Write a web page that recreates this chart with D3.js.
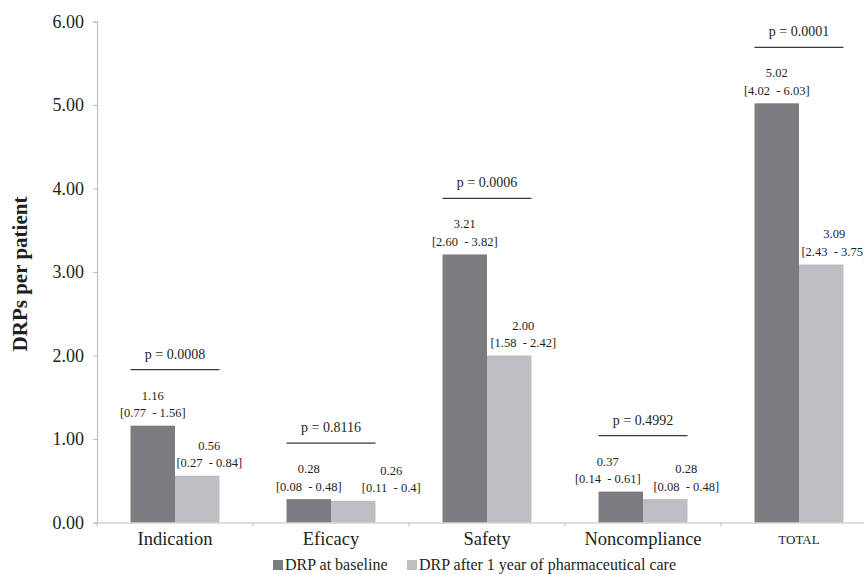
<!DOCTYPE html>
<html>
<head>
<meta charset="utf-8">
<script src="https://cdn.jsdelivr.net/npm/d3@7"></script>
<style>
  html, body { margin: 0; padding: 0; background: #fff; }
  svg text { font-family: "Liberation Serif", "DejaVu Serif", serif !important; }
  .pre { white-space: pre; }
</style>
</head>
<body>
<svg id="chart" width="864" height="574"></svg>
<script>
// Drug-related problems per patient, before and after pharmaceutical care
const categories = ["Indication", "Eficacy", "Safety", "Noncompliance", "TOTAL"];
const seriesNames = ["DRP at baseline", "DRP after 1 year of pharmaceutical care"];
const baseline = [1.16, 0.28, 3.21, 0.37, 5.02];
const baselineCI = ["[0.77  - 1.56]", "[0.08  - 0.48]", "[2.60  - 3.82]", "[0.14  - 0.61]", "[4.02  - 6.03]"];
const afterCare = [0.56, 0.26, 2.00, 0.28, 3.09];
const afterCareCI = ["[0.27  - 0.84]", "[0.11  - 0.4]", "[1.58  - 2.42]", "[0.08  - 0.48]", "[2.43  - 3.75]"];
const pValues = ["p = 0.0008", "p = 0.8116", "p = 0.0006", "p = 0.4992", "p = 0.0001"];
const yTicks = [0, 1, 2, 3, 4, 5, 6];

// label nudges (px) for the hand-placed value labels
const baseNudge = [0, 0, 0, -13, 0];
const afterNudge = [12, 38, 14, 21, 13];

const colors = ["#7b7c80", "#bdbec2"];
const textColor = "#231f20";
const serif = "Liberation Serif";

const svg = d3.select("#chart");

const x = d3.scaleBand().domain(categories).range([97, 877]).padding(0);
const inner = d3.scaleBand().domain([0, 1]).range([0, 89]);
const groupOffset = (x.bandwidth() - 89) / 2;
const y = d3.scaleLinear().domain([0, 6]).range([522.5, 21.5]);

// y axis
const yAxis = svg.append("g")
  .attr("transform", "translate(97,0)")
  .call(d3.axisLeft(y).tickValues(yTicks).tickFormat(d3.format(".2f")).tickSize(4).tickPadding(9))
  .attr("font-family", serif)
  .attr("font-size", 18);
yAxis.select(".domain").attr("stroke", "#bfbfbf").attr("stroke-width", 1.2);
yAxis.selectAll(".tick line").attr("stroke", "#bfbfbf");
yAxis.selectAll(".tick text").attr("fill", textColor);

// bars
const groups = svg.append("g").selectAll("g")
  .data(categories)
  .join("g")
  .attr("transform", d => `translate(${x(d) + groupOffset},0)`);

const seriesData = [baseline, afterCare];
groups.each(function (cat, i) {
  const g = d3.select(this);
  [0, 1].forEach(s => {
    const v = seriesData[s][i];
    g.append("rect")
      .attr("x", inner(s))
      .attr("width", inner.bandwidth())
      .attr("y", y(v))
      .attr("height", y(0) - y(v))
      .attr("fill", colors[s]);
  });
});

// x axis
const xAxis = svg.append("g")
  .attr("transform", `translate(0,${y(0)})`)
  .call(d3.axisBottom(x).tickSize(0).tickPadding(9))
  .attr("font-family", serif)
  .attr("font-size", 18.5);
xAxis.select(".domain").attr("stroke", "#bfbfbf").attr("stroke-width", 1.2);
xAxis.selectAll(".tick text")
  .attr("fill", textColor)
  .attr("font-size", d => d === "TOTAL" ? 13 : 18.5)
  .attr("dy", d => d === "TOTAL" ? "0.95em" : "0.71em");
xAxis.selectAll(".tick line").remove();
// category separators
xAxis.selectAll(".sep")
  .data(categories.map(c => x(c)).concat([x.range()[1]]))
  .join("line")
  .attr("class", "sep")
  .attr("x1", d => d).attr("x2", d => d)
  .attr("y1", 0).attr("y2", 4)
  .attr("stroke", "#bfbfbf");

// value labels
const labels = svg.append("g")
  .attr("fill", textColor)
  .attr("font-family", serif)
  .attr("font-size", 12.5);
categories.forEach((cat, i) => {
  const x0 = x(cat) + groupOffset;
  const specs = [
    { v: baseline[i], ci: baselineCI[i], cx: x0 + inner(0) + inner.bandwidth() / 2 + baseNudge[i] },
    { v: afterCare[i], ci: afterCareCI[i], cx: x0 + inner(1) + inner.bandwidth() / 2 + afterNudge[i] }
  ];
  specs.forEach(sp => {
    const top = y(sp.v);
    labels.append("text")
      .attr("x", sp.cx).attr("y", top - 26)
      .attr("text-anchor", "middle")
      .text(d3.format(".2f")(sp.v));
    labels.append("text")
      .attr("class", "pre")
      .attr("x", sp.cx).attr("y", top - 8.5)
      .attr("text-anchor", "middle")
      .text(sp.ci);
  });

  // significance bracket
  const maxV = Math.max(baseline[i], afterCare[i]);
  const ly = y(maxV) - 56;
  svg.append("line")
    .attr("x1", x0).attr("x2", x0 + 89)
    .attr("y1", ly).attr("y2", ly)
    .attr("stroke", "#3a3a3a").attr("stroke-width", 1.3);
  svg.append("text")
    .attr("x", x0 + 44.5).attr("y", ly - 11)
    .attr("text-anchor", "middle")
    .attr("fill", textColor)
    .attr("font-family", serif)
    .attr("font-size", 14)
    .text(pValues[i]);
});

// y axis title
svg.append("text")
  .attr("transform", "translate(27,274) rotate(-90)")
  .attr("text-anchor", "middle")
  .attr("fill", textColor)
  .attr("font-family", serif)
  .attr("font-size", 21)
  .attr("font-weight", "bold")
  .text("DRPs per patient");

// legend
const legendItems = [
  { name: seriesNames[0], color: colors[0], x: 273 },
  { name: seriesNames[1], color: colors[1], x: 407 }
];
const legend = svg.append("g")
  .attr("font-family", serif)
  .attr("font-size", 16);
legendItems.forEach(it => {
  legend.append("rect")
    .attr("x", it.x).attr("y", 560)
    .attr("width", 10).attr("height", 10)
    .attr("fill", it.color);
  legend.append("text")
    .attr("x", it.x + 12).attr("y", 570)
    .attr("fill", textColor)
    .text(it.name);
});
</script>
</body>
</html>
